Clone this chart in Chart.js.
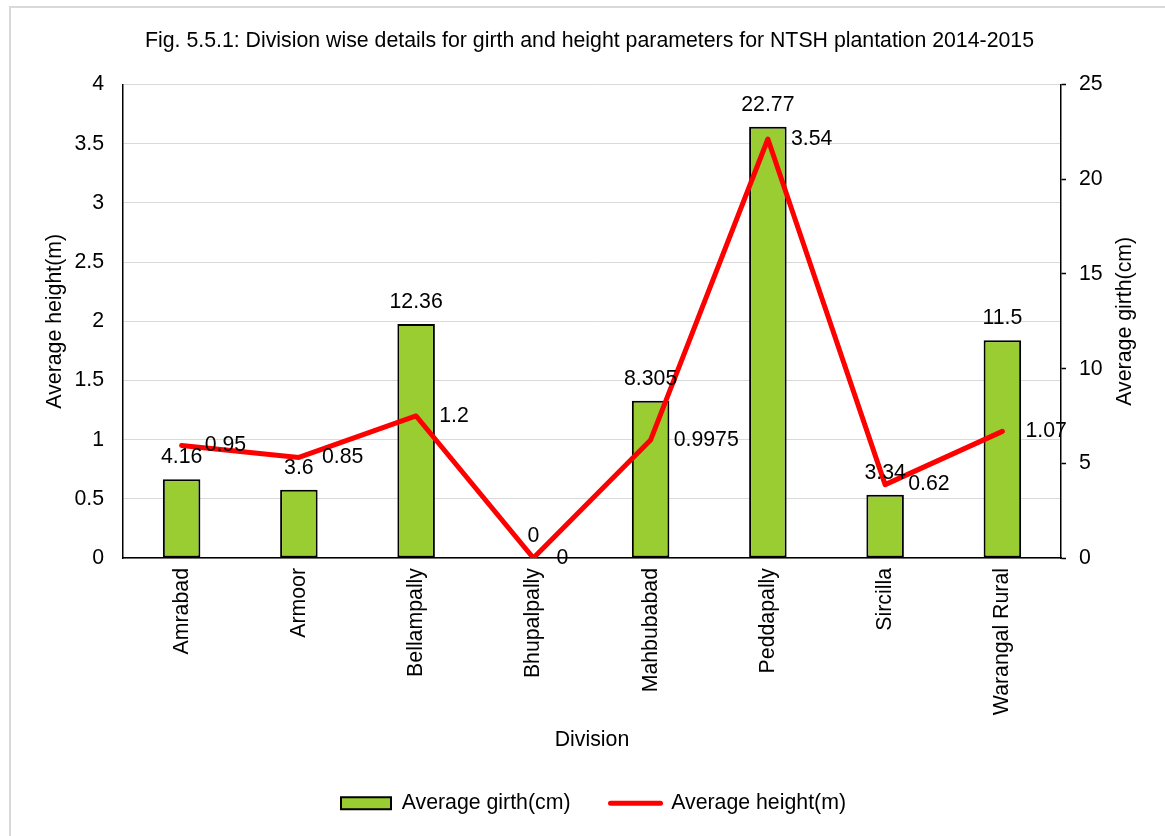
<!DOCTYPE html>
<html>
<head>
<meta charset="utf-8">
<script src="https://cdn.jsdelivr.net/npm/chart.js@4.4.1/dist/chart.umd.min.js"></script>
<style>
    html, body { margin: 0; padding: 0; background: #fff; overflow: hidden; }
    #wrap { position: relative; width: 1165px; height: 836px; }
    #frame { position: absolute; left: 9px; top: 6px; width: 1200px; height: 900px;
             border: 2px solid #d9d9d9; pointer-events: none; }
</style>
</head>
<body>
<div id="wrap">
    <canvas id="girthChart" width="1165" height="836"></canvas>
    <div id="frame"></div>
</div>
<script>
const divisions = ["Amrabad", "Armoor", "Bellampally", "Bhupalpally", "Mahbubabad", "Peddapally", "Sircilla", "Warangal Rural"];
const avgGirth = [4.16, 3.6, 12.36, 0, 8.305, 22.77, 3.34, 11.5];
const avgHeight = [0.95, 0.85, 1.2, 0, 0.9975, 3.54, 0.62, 1.07];
const heightTicks = [0, 0.5, 1, 1.5, 2, 2.5, 3, 3.5, 4];
const girthTicks = [0, 5, 10, 15, 20, 25];

const GREEN = "#9ACD32";
const RED = "#FF0000";
const FONT_SIZE = 21.3;
const FONT = FONT_SIZE + "px 'Liberation Sans', Arial, sans-serif";

Chart.defaults.font.family = "'Liberation Sans', Arial, sans-serif";
Chart.defaults.font.size = FONT_SIZE;
Chart.defaults.color = "#000";

// value labels: girth above the bars, height to the right of the points
const valueLabels = {
    id: "valueLabels",
    afterDatasetsDraw(chart) {
        const ctx = chart.ctx;
        ctx.save();
        ctx.font = FONT;
        ctx.fillStyle = "#000";
        ctx.textBaseline = "middle";
        chart.getDatasetMeta(0).data.forEach((bar, i) => {
            ctx.textAlign = "center";
            ctx.fillText(String(avgGirth[i]), bar.x, bar.y - 22);
        });
        chart.getDatasetMeta(1).data.forEach((pt, i) => {
            ctx.textAlign = "left";
            ctx.fillText(String(avgHeight[i]), pt.x + 23, pt.y);
        });
        ctx.restore();
    }
};

// right axis title reads bottom to top like the left one
const rightTitle = {
    id: "rightTitle",
    afterLayout(chart) {
        // title and legend sit a bit right of centre in the original
        chart.titleBlock.left += 7;
        chart.titleBlock.right += 7;
        chart.legend.left += 11;
        chart.legend.right += 11;
    },
    afterDraw(chart) {
        const ctx = chart.ctx;
        const area = chart.chartArea;
        ctx.save();
        ctx.font = FONT;
        ctx.fillStyle = "#000";
        ctx.textAlign = "center";
        ctx.textBaseline = "middle";
        ctx.translate(1125, (area.top + area.bottom) / 2);
        ctx.rotate(-Math.PI / 2);
        ctx.fillText("Average girth(cm)", 0, 0);
        ctx.restore();
    }
};

const ctx = document.getElementById("girthChart").getContext("2d");

new Chart(ctx, {
    data: {
        labels: divisions,
        datasets: [
            {
                type: "bar",
                label: "Average girth(cm)",
                data: avgGirth,
                yAxisID: "yGirth",
                backgroundColor: GREEN,
                borderColor: "#000",
                borderWidth: 2,
                borderSkipped: false,
                barPercentage: 0.32,
                categoryPercentage: 1,
                order: 2
            },
            {
                type: "line",
                label: "Average height(m)",
                data: avgHeight,
                yAxisID: "yHeight",
                borderColor: RED,
                borderWidth: 5,
                borderCapStyle: "round",
                borderJoinStyle: "round",
                pointRadius: 0,
                tension: 0,
                order: 1
            }
        ]
    },
    options: {
        responsive: false,
        devicePixelRatio: 1,
        animation: false,
        layout: { padding: { left: 0, right: 0, top: 0, bottom: 12 } },
        plugins: {
            tooltip: { enabled: false },
            title: {
                display: true,
                text: "Fig. 5.5.1: Division wise details for girth and height parameters for NTSH plantation 2014-2015",
                font: { size: FONT_SIZE, weight: "normal" },
                color: "#000",
                padding: { top: 28, bottom: 31 }
            },
            legend: {
                position: "bottom",
                labels: {
                    usePointStyle: true,
                    pointStyleWidth: 50,
                    boxHeight: 12,
                    padding: 40,
                    font: { size: FONT_SIZE },
                    color: "#000",
                    generateLabels: () => [
                        { text: "Average girth(cm)", pointStyle: "rect", fillStyle: GREEN,
                          strokeStyle: "#000", lineWidth: 2, datasetIndex: 0, fontColor: "#000" },
                        { text: "Average height(m)", pointStyle: "line", fillStyle: RED,
                          strokeStyle: RED, lineWidth: 5, lineCap: "round", datasetIndex: 1, fontColor: "#000" }
                    ]
                }
            }
        },
        scales: {
            x: {
                offset: true,
                grid: { drawOnChartArea: false, drawTicks: false },
                border: { color: "#000", width: 1.5 },
                ticks: { minRotation: 90, maxRotation: 90, padding: 10, font: { size: FONT_SIZE } },
                title: { display: true, text: "Division", font: { size: FONT_SIZE }, padding: { top: 0, bottom: 0 } },
                afterFit(scale) {
                    scale.height = scale.chart.height - 12 - scale.chart.legend.height - 558;
                }
            },
            yHeight: {
                position: "left",
                min: 0,
                max: 4,
                afterBuildTicks(scale) { scale.ticks = heightTicks.map(v => ({ value: v })); },
                grid: { color: "#d9d9d9", lineWidth: 1, drawTicks: false },
                border: { color: "#000", width: 1.5 },
                ticks: { padding: 19, font: { size: FONT_SIZE }, callback: v => String(v) },
                title: { display: true, text: "Average height(m)", font: { size: FONT_SIZE }, padding: { top: 42, bottom: 0 } },
                afterFit(scale) { scale.width = 123; }
            },
            yGirth: {
                position: "right",
                min: 0,
                max: 25,
                afterBuildTicks(scale) { scale.ticks = girthTicks.map(v => ({ value: v })); },
                grid: { drawOnChartArea: false, drawTicks: true, tickLength: 5, tickColor: "#000", tickWidth: 1.5 },
                border: { color: "#000", width: 1.5 },
                ticks: { padding: 13, font: { size: FONT_SIZE }, callback: v => String(v) },
                afterFit(scale) { scale.width = 104; }
            }
        }
    },
    plugins: [valueLabels, rightTitle]
});
</script>
</body>
</html>
